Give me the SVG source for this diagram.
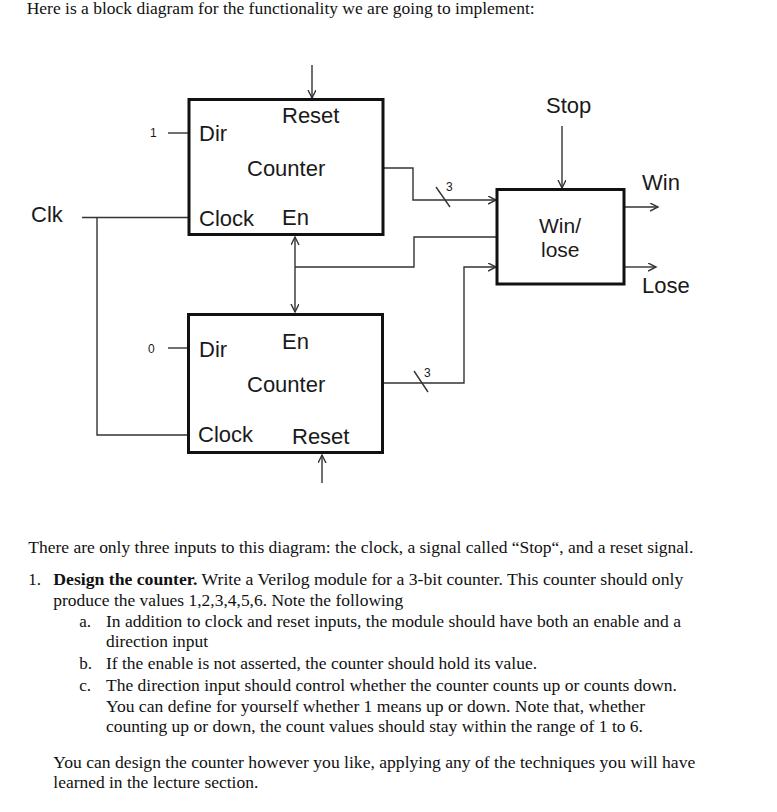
<svg xmlns="http://www.w3.org/2000/svg" width="777" height="812" viewBox="0 0 777 812">
<style>
.bg{fill:#fff}
.box{fill:#fff;stroke:#111;stroke-width:3}
.w{fill:none;stroke:#333;stroke-width:1.4}
.lbl{font-family:"Liberation Sans",Arial,sans-serif;font-size:22px;fill:#1a1a1a}
.sm{font-family:"Liberation Sans",Arial,sans-serif;font-size:12px;fill:#1a1a1a}
.doc{font-family:"Liberation Serif","Times New Roman",serif;font-size:17px;fill:#111}
.top{font-size:16.5px}
.b{font-weight:bold}
</style>
<defs>
<marker id="ah" markerWidth="10" markerHeight="10" refX="8" refY="4" orient="auto" markerUnits="userSpaceOnUse">
<path d="M0,0 L8,4 L0,8" fill="none" stroke="#333" stroke-width="1.4"/>
</marker>
<marker id="as" markerWidth="10" markerHeight="10" refX="8" refY="4" orient="auto-start-reverse" markerUnits="userSpaceOnUse">
<path d="M0,0 L8,4 L0,8" fill="none" stroke="#333" stroke-width="1.4"/>
</marker>
</defs>
<rect class="bg" x="0" y="0" width="777" height="812"/>
<text class="doc top" x="26.7" y="14" textLength="508" lengthAdjust="spacingAndGlyphs">Here is a block diagram for the functionality we are going to implement:</text>

<g id="connectors">
<path class="w" d="M312,65 V98" marker-end="url(#ah)"/>
<path class="w" d="M562,126 V188" marker-end="url(#ah)"/>
<path class="w" d="M624,207 H658" marker-end="url(#ah)"/>
<path class="w" d="M624,267 H656" marker-end="url(#ah)"/>
<path class="w" d="M295,237 V312" marker-start="url(#as)" marker-end="url(#as)"/>
<path class="w" d="M383,168 H413 V200 H496" marker-end="url(#ah)"/>
<path class="w" d="M295,267 H414 V237 H497"/>
<path class="w" d="M383,383 H464 V267 H496" marker-end="url(#ah)"/>
<path class="w" d="M82,217.5 H189 M97,217.5 V435 H188"/>
<path class="w" d="M168,133 H189"/>
<path class="w" d="M168,348 H188"/>
<path class="w" d="M322,483 V455" marker-end="url(#ah)"/>
<path class="w" d="M436,187 L450,207"/>
<path class="w" d="M414,371 L428,392"/>
<text class="sm" x="446" y="191">3</text>
<text class="sm" x="424" y="377">3</text>
<text class="sm" x="150" y="137">1</text>
<text class="sm" x="148" y="353">0</text>
<text class="lbl" x="31" y="222">Clk</text>
<text class="lbl" x="546" y="113">Stop</text>
<text class="lbl" x="642" y="190">Win</text>
<text class="lbl" x="642" y="293">Lose</text>
</g>

<g id="counter1">
<rect class="box" x="189" y="99.5" width="194" height="135"/>
<text class="lbl" x="282" y="123">Reset</text>
<text class="lbl" x="199" y="141">Dir</text>
<text class="lbl" x="247" y="176">Counter</text>
<text class="lbl" x="199" y="226">Clock</text>
<text class="lbl" x="282" y="225">En</text>
</g>

<g id="counter2">
<rect class="box" x="188.5" y="314.5" width="194" height="138"/>
<text class="lbl" x="199" y="357">Dir</text>
<text class="lbl" x="282" y="349">En</text>
<text class="lbl" x="247" y="392">Counter</text>
<text class="lbl" x="198" y="442">Clock</text>
<text class="lbl" x="292" y="444">Reset</text>
</g>

<g id="winlose">
<rect class="box" x="497" y="189.5" width="127" height="94.5"/>
<text class="lbl" x="539" y="233" style="font-size:21px">Win/</text>
<text class="lbl" x="541" y="257" style="font-size:21px">lose</text>
</g>

<g id="text">
<text class="doc" x="28.3" y="552.5" textLength="665" lengthAdjust="spacingAndGlyphs">There are only three inputs to this diagram: the clock, a signal called “Stop“, and a reset signal.</text>
<text class="doc" x="28.3" y="585">1.</text>
<text class="doc" x="53.3" y="585" textLength="630" lengthAdjust="spacingAndGlyphs"><tspan class="b">Design the counter.</tspan> Write a Verilog module for a 3-bit counter. This counter should only</text>
<text class="doc" x="53.3" y="605.5" textLength="350" lengthAdjust="spacingAndGlyphs">produce the values 1,2,3,4,5,6. Note the following</text>
<text class="doc" x="79.3" y="626.5">a.</text>
<text class="doc" x="106" y="626.5" textLength="575" lengthAdjust="spacingAndGlyphs">In addition to clock and reset inputs, the module should have both an enable and a</text>
<text class="doc" x="106" y="647" textLength="102" lengthAdjust="spacingAndGlyphs">direction input</text>
<text class="doc" x="79.3" y="668.5">b.</text>
<text class="doc" x="106" y="668.5" textLength="431" lengthAdjust="spacingAndGlyphs">If the enable is not asserted, the counter should hold its value.</text>
<text class="doc" x="79.3" y="690.5">c.</text>
<text class="doc" x="106" y="690.5" textLength="571" lengthAdjust="spacingAndGlyphs">The direction input should control whether the counter counts up or counts down.</text>
<text class="doc" x="106" y="711.5" textLength="539" lengthAdjust="spacingAndGlyphs">You can define for yourself whether 1 means up or down. Note that, whether</text>
<text class="doc" x="106" y="731.5" textLength="537" lengthAdjust="spacingAndGlyphs">counting up or down, the count values should stay within the range of 1 to 6.</text>
<text class="doc" x="53.3" y="768" textLength="642" lengthAdjust="spacingAndGlyphs">You can design the counter however you like, applying any of the techniques you will have</text>
<text class="doc" x="53.3" y="788" textLength="205" lengthAdjust="spacingAndGlyphs">learned in the lecture section.</text>
</g>
</svg>
